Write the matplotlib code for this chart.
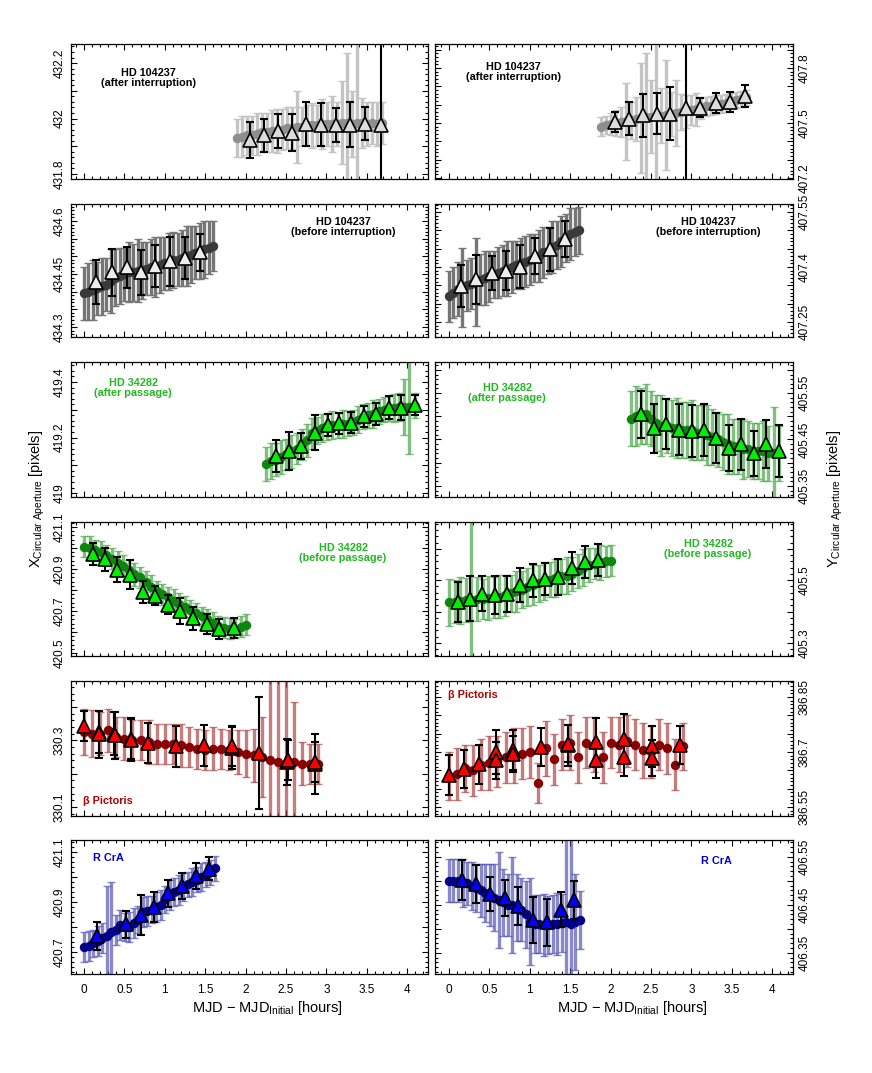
import numpy as np
import matplotlib
matplotlib.use('Agg')
import matplotlib.pyplot as plt
from matplotlib.ticker import MultipleLocator, FixedLocator, FixedFormatter

plt.rcParams['font.family'] = ['Liberation Sans', 'DejaVu Sans']
plt.rcParams['mathtext.fontset'] = 'custom'
plt.rcParams['mathtext.rm'] = 'Liberation Sans'
plt.rcParams['mathtext.it'] = 'Liberation Sans:italic'
plt.rcParams['mathtext.bf'] = 'Liberation Sans:bold'

# ---------------- DATA ----------------
# HD 104237 (after interruption)
HD104A_X_T = (1.89, 3.69)
HD104A_X = [431.93, 431.935, 431.94, 431.94, 431.945, 431.95, 431.95, 431.955, 431.955, 431.96,
            431.965, 431.965, 431.97, 431.97, 431.975, 431.975, 431.975, 431.98, 431.98, 431.98,
            431.98, 431.985, 431.985, 431.98, 431.985, 431.985, 431.98, 431.985, 431.98, 431.985]
HD104A_X_ERR = [0.07, 0.075, 0.07, 0.07, 0.075, 0.07, 0.07, 0.075, 0.08, 0.075, 0.075, 0.075, 0.13, 0.07,
                0.075, 0.08, 0.075, 0.09, 0.08, 0.1, 0.08, 0.15, 0.25, 0.12, 0.35, 0.09, 0.08, 0.075, 0.08, 0.075]
HD104A_X_BT = [2.06, 2.23, 2.40, 2.57, 2.75, 2.93, 3.12, 3.29, 3.48, 3.67]
HD104A_X_BV = [431.922, 431.940, 431.955, 431.949, 431.980, 431.978, 431.978, 431.978, 431.982, 431.976]
HD104A_X_BE = [0.066, 0.06, 0.06, 0.066, 0.078, 0.077, 0.061, 0.08, 0.061, 1.0]

HD104A_Y_T = (1.88, 3.68)
HD104A_Y = [407.48, 407.49, 407.495, 407.50, 407.505, 407.51, 407.515, 407.52, 407.525, 407.53,
            407.535, 407.54, 407.54, 407.545, 407.55, 407.555, 407.56, 407.565, 407.57, 407.575,
            407.58, 407.59, 407.595, 407.60, 407.605, 407.61, 407.62, 407.625, 407.63, 407.64]
HD104A_Y_ERR = [0.05, 0.05, 0.06, 0.07, 0.08, 0.21, 0.1, 0.12, 0.3, 0.35, 0.2, 0.4, 0.15, 0.3, 0.12,
                0.18, 0.1, 0.09, 0.08, 0.09, 0.06, 0.05, 0.05, 0.05, 0.05, 0.05, 0.045, 0.045, 0.045, 0.04]
HD104A_Y_BT = [2.05, 2.23, 2.40, 2.58, 2.74, 2.93, 3.11, 3.30, 3.48, 3.66]
HD104A_Y_BV = [407.505, 407.524, 407.542, 407.551, 407.551, 407.582, 407.582, 407.609, 407.615, 407.647]
HD104A_Y_BE = [0.053, 0.091, 0.117, 0.112, 0.144, 1.0, 0.052, 0.055, 0.053, 0.059]

# HD 104237 (before interruption)
HD104B_X_T = (0.0, 1.60)
HD104B_X = [434.395, 434.40, 434.405, 434.41, 434.415, 434.42, 434.43, 434.44, 434.445, 434.45,
            434.455, 434.455, 434.46, 434.46, 434.465, 434.47, 434.47, 434.475, 434.48, 434.485,
            434.49, 434.49, 434.495, 434.50, 434.505, 434.51, 434.515, 434.52, 434.525, 434.53]
HD104B_X_ERR = [0.075, 0.08, 0.085, 0.075, 0.08, 0.075, 0.09, 0.08, 0.08, 0.075, 0.085, 0.08, 0.09, 0.08,
                0.075, 0.08, 0.085, 0.08, 0.075, 0.08, 0.08, 0.075, 0.08, 0.085, 0.08, 0.075, 0.08, 0.08, 0.075, 0.07]
HD104B_X_BT = [0.145, 0.35, 0.53, 0.71, 0.88, 1.06, 1.25, 1.43]
HD104B_X_BV = [434.427, 434.455, 434.469, 434.455, 434.472, 434.486, 434.495, 434.512]
HD104B_X_BE = [0.062, 0.067, 0.058, 0.063, 0.06, 0.07, 0.06, 0.052]

HD104B_Y_T = (0.0, 1.61)
HD104B_Y = [407.32, 407.33, 407.34, 407.345, 407.35, 407.355, 407.36, 407.365, 407.37, 407.375,
            407.38, 407.385, 407.39, 407.395, 407.40, 407.405, 407.41, 407.415, 407.42, 407.425,
            407.43, 407.44, 407.445, 407.455, 407.46, 407.47, 407.48, 407.49, 407.495, 407.50]
HD104B_Y_ERR = [0.07, 0.07, 0.075, 0.108, 0.07, 0.07, 0.12, 0.07, 0.075, 0.07, 0.065, 0.07, 0.07, 0.075,
                0.07, 0.065, 0.07, 0.07, 0.07, 0.065, 0.07, 0.07, 0.065, 0.07, 0.065, 0.07, 0.065, 0.07, 0.065, 0.065]
HD104B_Y_BT = [0.145, 0.34, 0.53, 0.705, 0.88, 1.06, 1.25, 1.44]
HD104B_Y_BV = [407.348, 407.366, 407.383, 407.390, 407.401, 407.430, 407.448, 407.476]
HD104B_Y_BE = [0.057, 0.068, 0.047, 0.053, 0.059, 0.048, 0.058, 0.049]

# HD 34282 (after passage)
HD34A_X_T = (2.25, 4.09)
HD34A_X = [419.105, 419.115, 419.12, 419.13, 419.14, 419.15, 419.16, 419.175, 419.19, 419.215,
           419.225, 419.235, 419.24, 419.245, 419.245, 419.25, 419.25, 419.255, 419.265, 419.275,
           419.28, 419.285, 419.295, 419.30, 419.305, 419.305, 419.31, 419.31, 419.31, 419.315]
HD34A_X_ERR = [0.06, 0.065, 0.06, 0.06, 0.055, 0.06, 0.055, 0.055, 0.06, 0.055, 0.05, 0.05, 0.05, 0.05,
               0.045, 0.05, 0.045, 0.045, 0.05, 0.045, 0.045, 0.05, 0.045, 0.045, 0.045, 0.05, 0.05, 0.1, 0.17, 0.045]
HD34A_X_BT = [2.376, 2.54, 2.69, 2.86, 3.02, 3.16, 3.31, 3.47, 3.61, 3.77, 3.92, 4.09]
HD34A_X_BV = [419.134, 419.152, 419.17, 419.218, 419.245, 419.251, 419.254, 419.276, 419.284, 419.308, 419.308, 419.318]
HD34A_X_BE = [0.058, 0.067, 0.046, 0.063, 0.041, 0.039, 0.039, 0.039, 0.04, 0.042, 0.045, 0.036]

HD34A_Y_T = (2.25, 4.08)
HD34A_Y = [405.495, 405.50, 405.50, 405.505, 405.495, 405.485, 405.48, 405.48, 405.475, 405.475,
           405.47, 405.47, 405.47, 405.465, 405.465, 405.46, 405.455, 405.45, 405.445, 405.44,
           405.435, 405.435, 405.43, 405.43, 405.425, 405.425, 405.425, 405.42, 405.42, 405.42]
HD34A_Y_ERR = [0.06, 0.065, 0.06, 0.065, 0.06, 0.06, 0.065, 0.06, 0.06, 0.065, 0.06, 0.06, 0.065, 0.06,
               0.06, 0.065, 0.06, 0.06, 0.06, 0.065, 0.06, 0.06, 0.065, 0.06, 0.06, 0.06, 0.065, 0.06, 0.1, 0.06]
HD34A_Y_BT = [2.37, 2.54, 2.69, 2.85, 3.01, 3.15, 3.30, 3.47, 3.61, 3.77, 3.92, 4.08]
HD34A_Y_BV = [405.504, 405.474, 405.484, 405.471, 405.469, 405.471, 405.454, 405.431, 405.44, 405.42, 405.44, 405.425]
HD34A_Y_BE = [0.051, 0.053, 0.054, 0.055, 0.056, 0.056, 0.054, 0.05, 0.055, 0.049, 0.052, 0.056]

# HD 34282 (before passage)
HD34B_X_T = (0.0, 2.01)
HD34B_X = [421.005, 421.0, 420.99, 420.98, 420.965, 420.95, 420.93, 420.915, 420.895, 420.875,
           420.86, 420.84, 420.815, 420.795, 420.78, 420.765, 420.75, 420.735, 420.72, 420.705,
           420.69, 420.675, 420.66, 420.645, 420.63, 420.62, 420.615, 420.615, 420.625, 420.635]
HD34B_X_ERR = [0.05, 0.055, 0.05, 0.055, 0.05, 0.05, 0.055, 0.05, 0.05, 0.055, 0.05, 0.05, 0.055, 0.05,
               0.05, 0.05, 0.055, 0.05, 0.05, 0.05, 0.05, 0.045, 0.05, 0.05, 0.045, 0.05, 0.05, 0.045, 0.05, 0.05]
HD34B_X_BT = [0.115, 0.26, 0.41, 0.57, 0.726, 0.88, 1.036, 1.19, 1.35, 1.52, 1.67, 1.85]
HD34B_X_BV = [420.972, 420.947, 420.897, 420.873, 420.79, 420.774, 420.731, 420.70, 420.665, 420.637, 420.613, 420.621]
HD34B_X_BE = [0.053, 0.055, 0.061, 0.07, 0.054, 0.047, 0.047, 0.063, 0.054, 0.047, 0.047, 0.047]

HD34B_Y_T = (0.0, 2.01)
HD34B_Y = [405.43, 405.432, 405.435, 405.437, 405.438, 405.44, 405.44, 405.442, 405.445, 405.448,
           405.452, 405.458, 405.465, 405.47, 405.478, 405.485, 405.49, 405.498, 405.502, 405.508,
           405.512, 405.515, 405.52, 405.53, 405.54, 405.548, 405.553, 405.557, 405.56, 405.562]
HD34B_Y_ERR = [0.075, 0.07, 0.075, 0.07, 0.25, 0.07, 0.065, 0.07, 0.065, 0.07, 0.065, 0.06, 0.065, 0.06,
               0.06, 0.065, 0.06, 0.06, 0.055, 0.06, 0.055, 0.06, 0.055, 0.055, 0.06, 0.055, 0.05, 0.055, 0.05, 0.05]
HD34B_Y_BT = [0.116, 0.26, 0.41, 0.57, 0.72, 0.88, 1.035, 1.19, 1.35, 1.52, 1.68, 1.85]
HD34B_Y_BV = [405.430, 405.441, 405.457, 405.454, 405.457, 405.484, 405.5, 405.503, 405.511, 405.54, 405.559, 405.564]
HD34B_Y_BE = [0.063, 0.072, 0.056, 0.061, 0.058, 0.055, 0.052, 0.051, 0.057, 0.051, 0.051, 0.051]

# beta Pictoris
BPIC_X_T = (0.0, 2.9)
BPIC_X = [330.325, 330.32, 330.32, 330.33, 330.31, 330.305, 330.30, 330.30, 330.295, 330.29,
          330.29, 330.29, 330.285, 330.28, 330.275, 330.27, 330.275, 330.275, 330.27, 330.265,
          330.26, 330.255, 330.25, 330.24, 330.235, 330.23, 330.235, 330.23, 330.23, 330.23]
BPIC_X_ERR = [0.07, 0.07, 0.065, 0.065, 0.06, 0.065, 0.06, 0.06, 0.065, 0.06, 0.06, 0.06, 0.065, 0.06,
              0.06, 0.06, 0.065, 0.06, 0.06, 0.065, 0.07, 0.08, 0.12, 0.3, 0.35, 0.25, 0.18, 0.065, 0.06, 0.06]
BPIC_X_BT = [0.0, 0.186, 0.375, 0.578, 0.788, 1.135, 1.485, 1.828, 2.17, 2.516, 2.86]
BPIC_X_BV = [330.342, 330.325, 330.32, 330.305, 330.292, 330.282, 330.285, 330.277, 330.262, 330.235, 330.23]
BPIC_X_BE = [0.045, 0.063, 0.065, 0.061, 0.061, 0.062, 0.061, 0.064, 0.167, 0.07, 0.09]
BPIC_X_BT2 = [0.19, 0.38, 0.58, 1.83, 2.52, 2.86]
BPIC_X_BV2 = [330.318, 330.315, 330.30, 330.283, 330.24, 330.235]
BPIC_X_BE2 = [0.07, 0.07, 0.063, 0.06, 0.06, 0.06]

BPIC_Y_T = (0.0, 2.9)
BPIC_Y = [386.635, 386.64, 386.655, 386.65, 386.665, 386.67, 386.675, 386.685, 386.69, 386.695,
          386.70, 386.615, 386.71, 386.68, 386.72, 386.725, 386.685, 386.725, 386.72, 386.685,
          386.725, 386.72, 386.73, 386.72, 386.705, 386.70, 386.72, 386.71, 386.665, 386.715]
BPIC_Y_ERR = [0.065, 0.07, 0.065, 0.07, 0.07, 0.075, 0.07, 0.07, 0.075, 0.07, 0.07, 0.055, 0.075, 0.07,
              0.07, 0.075, 0.07, 0.07, 0.075, 0.07, 0.07, 0.075, 0.07, 0.07, 0.075, 0.07, 0.07, 0.07, 0.07, 0.065]
BPIC_Y_BT = [0.0, 0.186, 0.376, 0.577, 0.788, 1.134, 1.477, 1.815, 2.17, 2.508, 2.859]
BPIC_Y_BV = [386.638, 386.653, 386.666, 386.70, 386.706, 386.714, 386.718, 386.727, 386.735, 386.715, 386.718]
BPIC_Y_BE = [0.055, 0.052, 0.053, 0.059, 0.055, 0.051, 0.057, 0.067, 0.068, 0.057, 0.052]
BPIC_Y_BT2 = [0.577, 0.788, 1.477, 1.815, 2.17, 2.508]
BPIC_Y_BV2 = [386.677, 386.695, 386.723, 386.679, 386.685, 386.684]
BPIC_Y_BE2 = [0.05, 0.05, 0.05, 0.05, 0.05, 0.05]

# R CrA
RCRA_X_T = (0.0, 1.62)
RCRA_X = [420.72, 420.725, 420.735, 420.745, 420.755, 420.765, 420.78, 420.79, 420.81, 420.80,
          420.80, 420.815, 420.83, 420.86, 420.865, 420.87, 420.88, 420.89, 420.91, 420.93,
          420.94, 420.95, 420.96, 420.97, 420.98, 420.99, 421.0, 421.01, 421.02, 421.035]
RCRA_X_ERR = [0.06, 0.06, 0.055, 0.06, 0.06, 0.2, 0.2, 0.06, 0.06, 0.055, 0.06, 0.06, 0.055, 0.06,
              0.06, 0.055, 0.06, 0.06, 0.055, 0.06, 0.055, 0.06, 0.055, 0.05, 0.055, 0.05, 0.055, 0.05, 0.05, 0.05]
RCRA_X_BT = [0.157, 0.516, 0.70, 0.866, 1.036, 1.209, 1.382, 1.551]
RCRA_X_BV = [420.765, 420.811, 420.848, 420.879, 420.935, 420.965, 421.005, 421.033]
RCRA_X_BE = [0.056, 0.053, 0.08, 0.059, 0.054, 0.052, 0.052, 0.046]

RCRA_Y_T = (0.0, 1.62)
RCRA_Y = [406.50, 406.50, 406.50, 406.495, 406.495, 406.49, 406.485, 406.48, 406.475, 406.47,
          406.465, 406.46, 406.455, 406.45, 406.45, 406.445, 406.44, 406.43, 406.415, 406.41,
          406.41, 406.408, 406.408, 406.41, 406.41, 406.412, 406.414, 406.41, 406.415, 406.418]
RCRA_Y_ERR = [0.045, 0.045, 0.045, 0.05, 0.045, 0.05, 0.05, 0.055, 0.06, 0.065, 0.07, 0.1, 0.07, 0.065,
              0.1, 0.07, 0.065, 0.07, 0.09, 0.06, 0.06, 0.065, 0.06, 0.06, 0.065, 0.06, 0.2, 0.25, 0.1, 0.06]
RCRA_Y_BT = [0.157, 0.33, 0.507, 0.693, 0.858, 1.035, 1.208, 1.382, 1.551]
RCRA_Y_BV = [406.502, 406.493, 406.473, 406.464, 406.447, 406.418, 406.414, 406.44, 406.46]
RCRA_Y_BE = [0.041, 0.039, 0.035, 0.037, 0.04, 0.048, 0.049, 0.037, 0.039]

# axis ranges and tick labels
X_TICKS = [0, 0.5, 1, 1.5, 2, 2.5, 3, 3.5, 4]
X_TICKLABELS = ['0', '0.5', '1', '1.5', '2', '2.5', '3', '3.5', '4']

YLIMS_L = [(431.782, 432.269), (434.272, 434.648), (418.986, 419.472),
           (420.486, 421.124), (330.073, 330.478), (420.612, 421.148)]
YLIMS_R = [(407.195, 407.93), (407.209, 407.572), (405.326, 405.617),
           (405.258, 405.686), (386.525, 386.894), (406.306, 406.585)]
YSTEP_L = [0.1, 0.05, 0.1, 0.1, 0.1, 0.1]
YSTEP_R = [0.1, 0.05, 0.05, 0.1, 0.05, 0.05]
YLAB_L = [['431.8', '432', '432.2'], ['434.3', '434.45', '434.6'], ['419', '419.2', '419.4'],
          ['420.5', '420.7', '420.9', '421.1'], ['330.1', '330.3'], ['420.7', '420.9', '421.1']]
YLAB_R = [['407.2', '407.5', '407.8'], ['407.25', '407.4', '407.55'], ['405.35', '405.45', '405.55'],
          ['405.3', '405.5'], ['386.55', '386.7', '386.85'], ['406.35', '406.45', '406.55']]

LABELS_L = ['HD 104237\n(after interruption)', 'HD 104237\n(before interruption)',
            'HD 34282\n(after passage)', 'HD 34282\n(before passage)', 'β Pictoris', 'R CrA']

# ---------------- FIGURE ----------------
W, H = 872, 1073
fig = plt.figure(figsize=(W / 100, H / 100), dpi=100)

ROWS = [(44, 179), (204, 337), (362, 497), (522, 656), (681, 816), (840, 974)]
COLS = [(71, 428), (435, 793)]
XLIM_L = (-0.161, 4.257)
XLIM_R = (-0.173, 4.257)

STY = {
    'hd104A': dict(ec='#c4c4c4', pc='#8e8e8e', tc='#dcdcdc', alpha=1.0),
    'hd104B': dict(ec='#767676', pc='#3a3a3a', tc='#ececec', alpha=1.0),
    'hd34': dict(ec='#3f9f3f', pc='#0b880b', tc='#00f000', alpha=0.65),
    'bpic': dict(ec='#a83838', pc='#8b0000', tc='#ff0000', alpha=0.65),
    'rcra': dict(ec='#4a4aae', pc='#00008b', tc='#0000ff', alpha=0.65),
}

PANELS_L = [
    ('hd104A', HD104A_X_T, HD104A_X, HD104A_X_ERR, [(HD104A_X_BT, HD104A_X_BV, HD104A_X_BE)]),
    ('hd104B', HD104B_X_T, HD104B_X, HD104B_X_ERR, [(HD104B_X_BT, HD104B_X_BV, HD104B_X_BE)]),
    ('hd34', HD34A_X_T, HD34A_X, HD34A_X_ERR, [(HD34A_X_BT, HD34A_X_BV, HD34A_X_BE)]),
    ('hd34', HD34B_X_T, HD34B_X, HD34B_X_ERR, [(HD34B_X_BT, HD34B_X_BV, HD34B_X_BE)]),
    ('bpic', BPIC_X_T, BPIC_X, BPIC_X_ERR, [(BPIC_X_BT, BPIC_X_BV, BPIC_X_BE),
                                           (BPIC_X_BT2, BPIC_X_BV2, BPIC_X_BE2)]),
    ('rcra', RCRA_X_T, RCRA_X, RCRA_X_ERR, [(RCRA_X_BT, RCRA_X_BV, RCRA_X_BE)]),
]
PANELS_R = [
    ('hd104A', HD104A_Y_T, HD104A_Y, HD104A_Y_ERR, [(HD104A_Y_BT, HD104A_Y_BV, HD104A_Y_BE)]),
    ('hd104B', HD104B_Y_T, HD104B_Y, HD104B_Y_ERR, [(HD104B_Y_BT, HD104B_Y_BV, HD104B_Y_BE)]),
    ('hd34', HD34A_Y_T, HD34A_Y, HD34A_Y_ERR, [(HD34A_Y_BT, HD34A_Y_BV, HD34A_Y_BE)]),
    ('hd34', HD34B_Y_T, HD34B_Y, HD34B_Y_ERR, [(HD34B_Y_BT, HD34B_Y_BV, HD34B_Y_BE)]),
    ('bpic', BPIC_Y_T, BPIC_Y, BPIC_Y_ERR, [(BPIC_Y_BT, BPIC_Y_BV, BPIC_Y_BE),
                                           (BPIC_Y_BT2, BPIC_Y_BV2, BPIC_Y_BE2)]),
    ('rcra', RCRA_Y_T, RCRA_Y, RCRA_Y_ERR, [(RCRA_Y_BT, RCRA_Y_BV, RCRA_Y_BE)]),
]

# text annotation positions (pixel centres) and colours
TXT_L = [(148, 78), (343, 227), (133, 388), (343, 553), (108, 801), (108, 858)]
TXT_R = [(513, 72), (708, 227), (507, 393), (708, 549), (473, 695), (716, 861)]
TXT_C = ['black', 'black', '#22b822', '#22b822', '#b00000', '#0000cc']


def make_ax(col, row):
    x0, x1 = COLS[col]
    t, b = ROWS[row]
    return fig.add_axes([x0 / W, 1 - b / H, (x1 - x0) / W, (b - t) / H])


def draw(ax, key, trange, vals, errs, bins):
    s = STY[key]
    t = np.linspace(trange[0], trange[1], len(vals))
    ax.errorbar(t, vals, yerr=errs, fmt='none', ecolor=s['ec'], elinewidth=2.4,
                capsize=2.6, capthick=1.0, alpha=s['alpha'], zorder=2)
    ax.plot(t, vals, 'o', color=s['pc'], ms=6.8, mec=s['pc'], mew=0, zorder=3)
    for bt, bv, be in bins:
        ax.errorbar(bt, bv, yerr=be, fmt='none', ecolor='black', elinewidth=1.5,
                    capsize=2.8, capthick=1.5, zorder=4)
        ax.plot(bt, bv, '^', mfc=s['tc'], mec='black', mew=1.2, ms=9.5, zorder=5)


for col, panels, ylims, ysteps, ylabs, txtpos in [
        (0, PANELS_L, YLIMS_L, YSTEP_L, YLAB_L, TXT_L),
        (1, PANELS_R, YLIMS_R, YSTEP_R, YLAB_R, TXT_R)]:
    for row in range(6):
        ax = make_ax(col, row)
        key, trange, vals, errs, bins = panels[row]
        draw(ax, key, trange, vals, errs, bins)
        ax.set_xlim(XLIM_L if col == 0 else XLIM_R)
        ax.set_ylim(*ylims[row])
        # x ticks
        ax.xaxis.set_major_locator(FixedLocator(X_TICKS))
        ax.xaxis.set_minor_locator(MultipleLocator(0.1))
        ax.xaxis.set_major_formatter(FixedFormatter(X_TICKLABELS))
        # y ticks: major every step, labels only at chosen values
        step = ysteps[row]
        lo, hi = ylims[row]
        labvals = [float(v) for v in ylabs[row]]
        majors = []
        k = np.ceil(lo / step - 1e-6)
        while k * step <= hi + 1e-9:
            majors.append(round(k * step, 4))
            k += 1
        labels = []
        for m in majors:
            match = [lab for lab, v in zip(ylabs[row], labvals) if abs(v - m) < 1e-6]
            labels.append(match[0] if match else '')
        ax.yaxis.set_major_locator(FixedLocator(majors))
        ax.yaxis.set_major_formatter(FixedFormatter(labels))
        ax.yaxis.set_minor_locator(MultipleLocator(step / 5))
        ax.tick_params(which='both', direction='in', top=True, bottom=True,
                       left=True, right=True, width=0.8, colors='black')
        ax.tick_params(which='major', length=4.0)
        ax.tick_params(which='minor', length=2.0)
        ax.tick_params(axis='x', labelsize=8.5, pad=7, labelbottom=(row == 5))
        if col == 0:
            ax.tick_params(axis='y', labelleft=True, labelright=False, labelsize=8.5,
                           pad=4, labelrotation=90)
        else:
            ax.tick_params(axis='y', labelleft=False, labelright=True, labelsize=8.5,
                           pad=4, labelrotation=90)
        for lab in ax.get_yticklabels():
            lab.set_va('center')
        for sp in ax.spines.values():
            sp.set_linewidth(0.9)
        px, py = txtpos[row]
        ax.text(px / W, 1 - py / H, LABELS_L[row], transform=fig.transFigure,
                ha='center', va='center', fontsize=7.8, fontweight='bold',
                color=TXT_C[row], linespacing=1.05)

fig.text(267 / W, 1 - 1008 / H, r'MJD $-$ MJD$_{\mathrm{Initial}}$ [hours]',
         ha='center', va='center', fontsize=10.5)
fig.text(632 / W, 1 - 1008 / H, r'MJD $-$ MJD$_{\mathrm{Initial}}$ [hours]',
         ha='center', va='center', fontsize=10.5)
fig.text(37 / W, 1 - 499 / H, r'X$_{\mathrm{Circular\ Aperture}}$ [pixels]',
         ha='center', va='center', rotation=90, fontsize=10.5)
fig.text(835 / W, 1 - 499 / H, r'Y$_{\mathrm{Circular\ Aperture}}$ [pixels]',
         ha='center', va='center', rotation=90, fontsize=10.5)

fig.savefig('out.png', dpi=100)
